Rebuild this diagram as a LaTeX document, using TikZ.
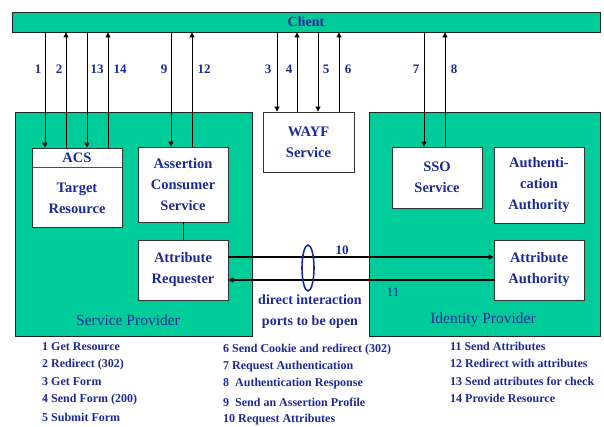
\documentclass[tikz,border=0pt]{standalone}
\usepackage{fontspec}
\setmainfont{Liberation Serif}
\usetikzlibrary{arrows.meta,shadows}
\definecolor{fedgreen}{RGB}{0,204,153}
\definecolor{inkblue}{RGB}{28,42,150}
\tikzset{
  container/.style={draw=black!85, line width=0.9pt, fill=fedgreen,
    drop shadow={shadow xshift=1.2pt, shadow yshift=-1.2pt, fill=black!40, opacity=1}},
  whitebox/.style={draw=black!80, line width=0.8pt, fill=white,
    drop shadow={shadow xshift=1.2pt, shadow yshift=-1.2pt, fill=black!40, opacity=1}},
  boxtext/.style={text=inkblue, align=center, inner sep=0pt,
    font=\fontsize{14.5}{21}\selectfont\bfseries},
  areatext/.style={text=inkblue, inner sep=0pt, font=\fontsize{15.5}{18}\selectfont},
  steplabel/.style={text=inkblue, inner sep=0pt, font=\fontsize{13}{15}\selectfont\bfseries},
  legendtext/.style={text=inkblue, anchor=west, inner sep=0pt,
    font=\fontsize{12}{14}\selectfont\bfseries},
  flow/.style={draw=black, line width=0.9pt, -{Triangle[width=5pt,length=5pt]}},
  link/.style={draw=black, line width=0.9pt},
  portline/.style={draw=black, line width=1.3pt},
}
\begin{document}
\begin{tikzpicture}[x=1pt,y=-1pt]
\useasboundingbox (0,0) rectangle (604,427);

% client bar
\node[container, minimum width=588pt, minimum height=20pt, inner sep=0pt] (client) at (306,22) {};
\node[text=inkblue, font=\fontsize{14}{16}\selectfont\bfseries, inner sep=0pt] (clientlbl) at (client.center) {Client};

% service provider
\node[container, minimum width=237pt, minimum height=224pt, inner sep=0pt] (sp) at (133.5,224) {};
\node[areatext] (splbl) at (128,320) {Service Provider};
\node[whitebox, minimum width=90pt, minimum height=79pt, inner sep=0pt] (acs) at (77,187.5) {};
\coordinate (acsdiv) at (0,167);
\draw[draw=black!70, line width=0.7pt] (acs.west |- acsdiv) -- (acs.east |- acsdiv);
\node[boxtext] (acslbl) at (77,158) {ACS};
\node[boxtext] (tgt) at (77,198) {Target\\Resource};
\node[whitebox, boxtext, minimum width=90pt, minimum height=75pt] (acons) at (183,184.5) {Assertion\\Consumer\\Service};
\node[whitebox, boxtext, minimum width=90pt, minimum height=60pt] (areq) at (183,270) {Attribute\\Requester};
\draw[link, line width=0.6pt] (acons.south) -- (areq.north);

% WAYF
\node[whitebox, boxtext, minimum width=91pt, minimum height=60pt] (wayf) at (308.5,142) {WAYF\\Service};

% identity provider
\node[container, minimum width=231pt, minimum height=224pt, inner sep=0pt] (idp) at (484.5,224) {};
\node[areatext] (idplbl) at (483,320) {Identity Provider};
\node[whitebox, boxtext, minimum width=90pt, minimum height=61pt] (sso) at (437,177.5) {SSO\\Service};
\node[whitebox, boxtext, minimum width=90pt, minimum height=76pt] (authn) at (539,185) {Authenti-\\cation\\Authority};
\node[whitebox, boxtext, minimum width=90pt, minimum height=60pt] (aauth) at (539,270) {Attribute\\Authority};

% x positions of the client exchanges
\coordinate (x1) at (45,0);   \coordinate (x2) at (66,0);
\coordinate (x13) at (87,0);  \coordinate (x14) at (108,0);
\coordinate (x9) at (171,0);  \coordinate (x12) at (192,0);
\coordinate (x3) at (277,0);  \coordinate (x4) at (297,0);
\coordinate (x5) at (318,0);  \coordinate (x6) at (339,0);
\coordinate (x7) at (424,0);  \coordinate (x8) at (445,0);

\draw[flow] (client.south -| x1) -- (acs.north -| x1);
\draw[flow] (acs.north -| x2) -- (client.south -| x2);
\draw[flow] (client.south -| x13) -- (acs.north -| x13);
\draw[flow] (acs.north -| x14) -- (client.south -| x14);
\draw[flow] (client.south -| x9) -- (acons.north -| x9);
\draw[flow] (acons.north -| x12) -- (client.south -| x12);
\draw[flow] (client.south -| x3) -- (wayf.north -| x3);
\draw[flow] (wayf.north -| x4) -- (client.south -| x4);
\draw[flow] (client.south -| x5) -- (wayf.north -| x5);
\draw[flow] (wayf.north -| x6) -- (client.south -| x6);
\draw[flow] (client.south -| x7) -- (sso.north -| x7);
\draw[flow] (sso.north -| x8) -- (client.south -| x8);

\node[steplabel] (l1) at (38,69) {1};
\node[steplabel] (l2) at (59,69) {2};
\node[steplabel] (l13) at (97,69) {13};
\node[steplabel] (l14) at (120,69) {14};
\node[steplabel] (l9) at (164,69) {9};
\node[steplabel] (l12) at (204,69) {12};
\node[steplabel] (l3) at (268,69) {3};
\node[steplabel] (l4) at (289,69) {4};
\node[steplabel] (l5) at (326,69) {5};
\node[steplabel] (l6) at (348,69) {6};
\node[steplabel] (l7) at (416,69) {7};
\node[steplabel] (l8) at (454,69) {8};

% direct attribute exchange
\coordinate (y10) at (0,257);
\coordinate (y11) at (0,280);
\draw[portline, -{Triangle[width=5pt,length=5pt]}] (areq.east |- y10) -- (aauth.west |- y10);
\draw[portline, -{Triangle[width=5pt,length=5pt]}] (aauth.west |- y11) -- (areq.east |- y11);
\node[steplabel] (l10) at (342,250) {10};
\node[text=inkblue, inner sep=0pt, font=\fontsize{13}{15}\selectfont] (l11) at (393,292) {11};
\draw[inkblue, line width=1.6pt] (308,268) ellipse [x radius=6, y radius=23];
\node[text=inkblue, align=center, inner sep=0pt, font=\fontsize{14}{21}\selectfont\bfseries] (ports) at (310,312) {direct interaction\\ports to be open};

% legend
\node[legendtext] (g1) at (42,347) {1 Get Resource};
\node[legendtext] (g2) at (42,365) {2 Redirect (302)};
\node[legendtext] (g3) at (42,382) {3 Get Form};
\node[legendtext] (g4) at (42,400) {4 Send Form (200)};
\node[legendtext] (g5) at (42,417) {5 Submit Form};
\node[legendtext] (g6) at (223,350) {6 Send Cookie and redirect (302)};
\node[legendtext] (g7) at (223,367) {7 Request Authentication};
\node[legendtext] (g8) at (223,384) {8\ \ Authentication Response};
\node[legendtext] (g9) at (223,402) {9\ \ Send an Assertion Profile};
\node[legendtext] (g10) at (223,420) {10 Request Attributes};
\node[legendtext] (g11) at (450,346) {11 Send Attributes};
\node[legendtext] (g12) at (450,363) {12 Redirect with attributes};
\node[legendtext] (g13) at (450,381) {13 Send attributes for check};
\node[legendtext] (g14) at (450,398) {14 Provide Resource};
\end{tikzpicture}
\end{document}
